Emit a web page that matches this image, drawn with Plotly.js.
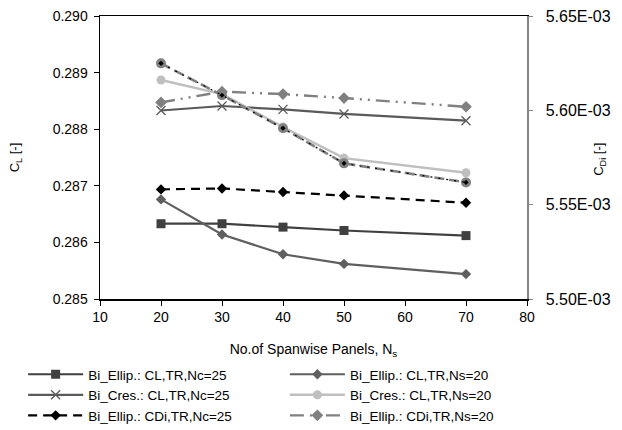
<!DOCTYPE html>
<html>
<head>
<meta charset="utf-8">
<script src="https://cdn.plot.ly/plotly-3.0.1.min.js"></script>
<style>html,body{margin:0;padding:0;background:#fff}#chart{width:622px;height:430px}</style>
</head>
<body>
<div id="chart"></div>
<script>
const xVals = [20, 30, 40, 50, 70];
const ellipCL_Nc25 = [0.28633, 0.28633, 0.28627, 0.28621, 0.28612];
const ellipCL_Ns20 = [0.28676, 0.28614, 0.28579, 0.28562, 0.28544];
const cresCL_Nc25 = [0.28833, 0.28841, 0.28835, 0.28827, 0.28815];
const cresCL_Ns20 = [0.28887, 0.28862, 0.28804, 0.28749, 0.28723];
const ellipCDi_Nc25 = [0.0055581, 0.0055586, 0.0055567, 0.0055549, 0.0055510];
const ellipCDi_Ns20 = [0.0056042, 0.0056099, 0.0056086, 0.0056065, 0.0056019];
const cresCDi_a = [0.0056249, 0.0056080, 0.0055905, 0.0055719, 0.0055618];
const cresCDi_b = [0.0056249, 0.0056080, 0.0055905, 0.0055719, 0.0055618];
const y2TickVals = [0.0055, 0.00555, 0.0056, 0.00565];
const y2TickText = ['5.50E-03', '5.55E-03', '5.60E-03', '5.65E-03'];

const traces = [
  {x: xVals, y: ellipCL_Nc25, name: 'Bi_Ellip.: CL,TR,Nc=25', mode: 'lines+markers', legend: 'legend',
   line: {color: '#404040', width: 2.2}, marker: {symbol: 'square', size: 9, color: '#404040'}},
  {x: xVals, y: ellipCL_Ns20, name: 'Bi_Ellip.: CL,TR,Ns=20', mode: 'lines+markers', legend: 'legend2',
   line: {color: '#5f5f5f', width: 2.2}, marker: {symbol: 'diamond', size: 8, color: '#5f5f5f'}},
  {x: xVals, y: cresCL_Nc25, name: 'Bi_Cres.: CL,TR,Nc=25', mode: 'lines+markers', legend: 'legend',
   line: {color: '#5a5a5a', width: 2.2}, marker: {symbol: 'x-thin', size: 9, line: {color: '#5a5a5a', width: 1.3}}},
  {x: xVals, y: cresCL_Ns20, name: 'Bi_Cres.: CL,TR,Ns=20', mode: 'lines+markers', legend: 'legend2',
   line: {color: '#bfbfbf', width: 2.4}, marker: {symbol: 'circle', size: 9, color: '#bfbfbf'}},
  {x: xVals, y: ellipCDi_Nc25, name: 'Bi_Ellip.: CDi,TR,Nc=25', mode: 'lines+markers', yaxis: 'y2', legend: 'legend',
   line: {color: '#000000', width: 2.2, dash: '9px,6px'}, marker: {symbol: 'diamond', size: 8, color: '#000000'}},
  {x: xVals, y: ellipCDi_Ns20, name: 'Bi_Ellip.: CDi,TR,Ns=20', mode: 'lines+markers', yaxis: 'y2', legend: 'legend2',
   line: {color: '#808080', width: 2.4, dash: '14px,6px,2px,6px,2px,6px'}, marker: {symbol: 'diamond', size: 9, color: '#808080'}},
  {x: xVals, y: cresCDi_a, name: 'a', mode: 'lines+markers', yaxis: 'y2', showlegend: false,
   line: {color: '#808080', width: 2.6, dash: '10px,5px'}, marker: {symbol: 'circle', size: 10, color: '#808080'}},
  {x: xVals, y: cresCDi_b, name: 'b', mode: 'lines+markers', yaxis: 'y2', showlegend: false,
   line: {color: '#000000', width: 1.2, dash: '2px,6px'}, marker: {symbol: 'diamond', size: 4, color: '#000000'}}
];

const legendCommon = {orientation: 'v', yanchor: 'top', xanchor: 'left', y: -0.212,
  font: {size: 13.5}, tracegroupgap: 0, itemwidth: 55, bgcolor: 'rgba(0,0,0,0)'};

const layout = {
  width: 622, height: 430,
  margin: {l: 100, r: 95, t: 16, b: 131, autoexpand: false},
  paper_bgcolor: '#ffffff', plot_bgcolor: '#ffffff',
  font: {family: 'Liberation Sans, Arial, sans-serif', size: 14, color: '#000'},
  showlegend: true,
  legend: Object.assign({}, legendCommon, {x: -0.18}),
  legend2: Object.assign({}, legendCommon, {x: 0.433}),
  xaxis: {range: [10, 80], dtick: 10, tick0: 10, showgrid: false, zeroline: false,
    showline: true, linecolor: '#000', linewidth: 1.5, mirror: true,
    ticks: 'outside', ticklen: 5, tickcolor: '#000',
    title: {text: 'No.of Spanwise Panels, N<sub>s</sub>', font: {size: 14}, standoff: 20}},
  yaxis: {range: [0.285, 0.290], dtick: 0.001, tick0: 0.285, tickformat: '.3f',
    showgrid: false, zeroline: false, showline: true, linecolor: '#000', linewidth: 1.5,
    ticks: 'outside', ticklen: 5, tickcolor: '#000', ticklabelstandoff: 3,
    title: {text: 'C<sub>L</sub> [-]', font: {size: 13}, standoff: 30}},
  yaxis2: {overlaying: 'y', side: 'right', range: [0.0055, 0.00565],
    tickvals: y2TickVals, ticktext: y2TickText, tickfont: {size: 16},
    showgrid: false, zeroline: false, showline: true, linecolor: '#868686', linewidth: 1.5,
    ticks: 'outside', ticklen: 4, tickcolor: '#868686', ticklabelstandoff: 10},
  annotations: [{text: 'C<sub>Di</sub> [-]', xref: 'paper', yref: 'paper', x: 1.171, y: 0.492,
    xanchor: 'center', yanchor: 'middle', textangle: -90, showarrow: false, font: {size: 13}}]
};

Plotly.newPlot('chart', traces, layout, {displayModeBar: false, staticPlot: true});
</script>
</body>
</html>
